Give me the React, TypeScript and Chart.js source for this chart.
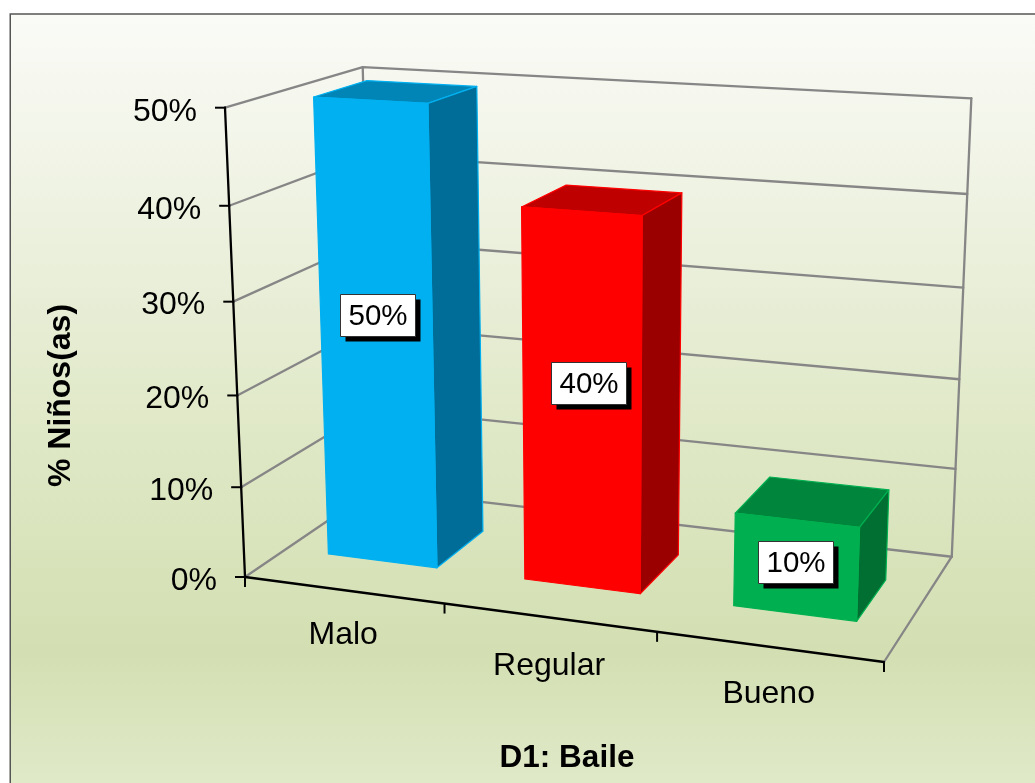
import React, { useEffect, useRef } from "react";
import { Chart, registerables } from "chart.js";

Chart.register(...registerables);

const categories = ["Malo", "Regular", "Bueno"];
const values = [50, 40, 10];
const frontColors = ["#00B0F0", "#FF0000", "#00B050"];
const topColors = ["#0085B6", "#BE0000", "#00853C"];
const sideColors = ["#006D98", "#9B0000", "#006F31"];
const yAxisTitle = "% Niños(as)";
const xAxisTitle = "D1: Baile";

// Projective frame of the 3D box: origin, ends of the three axes and their weights.
const O = [245, 577];
const X = [884, 662];
const Y = [225, 107.7];
const Z = [374, 489.3];
const WX = 0.908;
const WY = 0.9463;
const WZ = 1.1168;
const BAR_DEPTH = [0.3, 0.7];
const LABEL_NUDGE_X = [2, 7, 0];
const LABEL_NUDGE_Y = [-1, -3, -1];
const CATEGORY_LABEL_DROP = [45, 49, 48];
const FONT = '"Liberation Sans", Arial, sans-serif';

function project(u: number, v: number, w: number): [number, number] {
  const d = 1 + (WX - 1) * u + (WY - 1) * v + (WZ - 1) * w;
  const c = [0, 1].map(
    (i) => O[i] + u * (WX * X[i] - O[i]) + v * (WY * Y[i] - O[i]) + w * (WZ * Z[i] - O[i])
  );
  return [c[0] / d, c[1] / d];
}

function poly(ctx: CanvasRenderingContext2D, pts: [number, number][], fill: string | null, stroke: string | null, lw = 1) {
  ctx.beginPath();
  pts.forEach((p, i) => (i ? ctx.lineTo(p[0], p[1]) : ctx.moveTo(p[0], p[1])));
  if (fill) {
    ctx.closePath();
    ctx.fillStyle = fill;
    ctx.fill();
  }
  if (stroke) {
    ctx.strokeStyle = stroke;
    ctx.lineWidth = lw;
    ctx.lineJoin = "round";
    ctx.stroke();
  }
}

const scene3d = {
  id: "scene3d",
  beforeDraw(chart: any) {
    const ctx: CanvasRenderingContext2D = chart.ctx;
    ctx.save();
    ctx.fillStyle = "#FFFFFF";
    ctx.fillRect(0, 0, chart.width, chart.height);
    const g = ctx.createLinearGradient(0, 14, 0, chart.height);
    g.addColorStop(0, "#FAFBF7");
    g.addColorStop(0.31, "#EBF0DC");
    g.addColorStop(0.55, "#DFE8C6");
    g.addColorStop(0.83, "#D3DFB2");
    g.addColorStop(1, "#E0E9C8");
    ctx.fillStyle = g;
    ctx.fillRect(10, 14, chart.width - 10, chart.height - 14);
    ctx.strokeStyle = "#555555";
    ctx.lineWidth = 1.5;
    ctx.beginPath();
    ctx.moveTo(10.25, chart.height);
    ctx.lineTo(10.25, 14);
    ctx.lineTo(chart.width, 14);
    ctx.stroke();
    ctx.restore();
  },
  beforeDatasetsDraw(chart: any) {
    const ctx: CanvasRenderingContext2D = chart.ctx;
    const ca = chart.chartArea;
    const ys = chart.scales.y;
    const xs = chart.scales.x;
    const toV = (val: number) => (ca.bottom - ys.getPixelForValue(val)) / ca.height;
    const gray = "#868686";
    ctx.save();
    ctx.lineCap = "round";
    // walls and floor
    ys.ticks.forEach((t: any) => {
      const v = toV(t.value);
      poly(ctx, [project(0, v, 0), project(0, v, 1), project(1, v, 1)], null, gray, 2.3);
    });
    poly(ctx, [project(0, 0, 1), project(0, 1, 1)], null, gray, 2.3);
    poly(ctx, [project(1, 0, 1), project(1, 1, 1)], null, gray, 2.3);
    poly(ctx, [project(1, 0, 0), project(1, 0, 1)], null, gray, 2.3);
    // axes
    poly(ctx, [project(0, 0, 0), project(0, 1, 0)], null, "#000000", 2.3);
    poly(ctx, [project(0, 0, 0), project(1, 0, 0)], null, "#000000", 2.3);
    ctx.lineCap = "butt";
    ctx.font = `32px ${FONT}`;
    ctx.textAlign = "right";
    ctx.textBaseline = "middle";
    ys.ticks.forEach((t: any) => {
      const [px, py] = project(0, toV(t.value), 0);
      poly(ctx, [[px - 10, py], [px + 1, py]], null, "#000000", 2);
      ctx.fillStyle = "#000000";
      ctx.fillText(String(t.label), px - 28, py + 4);
    });
    // category ticks and labels
    const n = categories.length;
    ctx.textAlign = "center";
    for (let i = 0; i <= n; i++) {
      const [px, py] = project(i / n, 0, 0);
      poly(ctx, [[px, py], [px, py + 10]], null, "#000000", 2);
    }
    categories.forEach((_, i) => {
      const [px, py] = project((xs.getPixelForValue(i) - ca.left) / ca.width, 0, 0);
      ctx.fillStyle = "#000000";
      ctx.fillText(xs.getLabelForValue(i), px, py + CATEGORY_LABEL_DROP[i]);
    });
    // axis titles
    ctx.font = `bold 31.5px ${FONT}`;
    ctx.fillText(xAxisTitle, 567, 758);
    ctx.translate(61, 395.5);
    ctx.rotate(-Math.PI / 2);
    ctx.font = `bold 32px ${FONT}`;
    ctx.fillText(yAxisTitle, 0, 0);
    ctx.restore();
  },
  afterDatasetsDraw(chart: any) {
    const ctx: CanvasRenderingContext2D = chart.ctx;
    const ca = chart.chartArea;
    const bars = chart.getDatasetMeta(0).data;
    const [wf, wb] = BAR_DEPTH;
    ctx.save();
    bars.forEach((el: any, i: number) => {
      const u0 = (el.x - el.width / 2 - ca.left) / ca.width;
      const u1 = (el.x + el.width / 2 - ca.left) / ca.width;
      const v0 = (ca.bottom - el.base) / ca.height;
      const v1 = (ca.bottom - el.y) / ca.height;
      const edge = frontColors[i];
      poly(ctx, [project(u0, v1, wf), project(u1, v1, wf), project(u1, v1, wb), project(u0, v1, wb)], topColors[i], edge, 1.2);
      poly(ctx, [project(u1, v0, wf), project(u1, v1, wf), project(u1, v1, wb), project(u1, v0, wb)], sideColors[i], edge, 1.2);
      poly(ctx, [project(u0, v0, wf), project(u1, v0, wf), project(u1, v1, wf), project(u0, v1, wf)], edge, edge, 1.2);
    });
    bars.forEach((el: any, i: number) => {
      const uc = (el.x - ca.left) / ca.width;
      const v1 = (ca.bottom - el.y) / ca.height;
      const [cx, cy] = project(uc, v1 * 0.545, wf);
      const bw = 75, bh = 42;
      const l = Math.round(cx + LABEL_NUDGE_X[i] - bw / 2) + 0.5;
      const t = Math.round(cy + LABEL_NUDGE_Y[i] - bh / 2) + 0.5;
      ctx.fillStyle = "#000000";
      ctx.fillRect(l + 5, t + 5, bw, bh);
      ctx.fillStyle = "#FFFFFF";
      ctx.fillRect(l, t, bw, bh);
      ctx.strokeStyle = "#333333";
      ctx.lineWidth = 1;
      ctx.strokeRect(l, t, bw, bh);
      ctx.fillStyle = "#000000";
      ctx.font = `29.5px ${FONT}`;
      ctx.textAlign = "center";
      ctx.textBaseline = "middle";
      ctx.fillText(`${values[i]}%`, l + bw / 2, t + bh / 2 + 1);
    });
    ctx.restore();
  },
};

export default function App() {
  const ref = useRef<HTMLCanvasElement>(null);
  useEffect(() => {
    document.body.style.margin = "0";
    const chart = new Chart(ref.current as HTMLCanvasElement, {
      type: "bar",
      data: {
        labels: categories,
        datasets: [
          {
            label: yAxisTitle,
            data: values,
            backgroundColor: "transparent",
            borderWidth: 0,
            categoryPercentage: 1,
            barPercentage: 0.56,
          },
        ],
      },
      options: {
        responsive: false,
        animation: false,
        layout: { padding: 0 },
        plugins: { legend: { display: false }, tooltip: { enabled: false } },
        scales: {
          x: { display: false },
          y: {
            display: false,
            min: 0,
            max: 50,
            ticks: { stepSize: 10, callback: (v: any) => `${v}%` },
          },
        },
      },
      plugins: [scene3d],
    } as any);
    return () => chart.destroy();
  }, []);
  return <canvas ref={ref} width={1035} height={783} style={{ display: "block" }} />;
}
